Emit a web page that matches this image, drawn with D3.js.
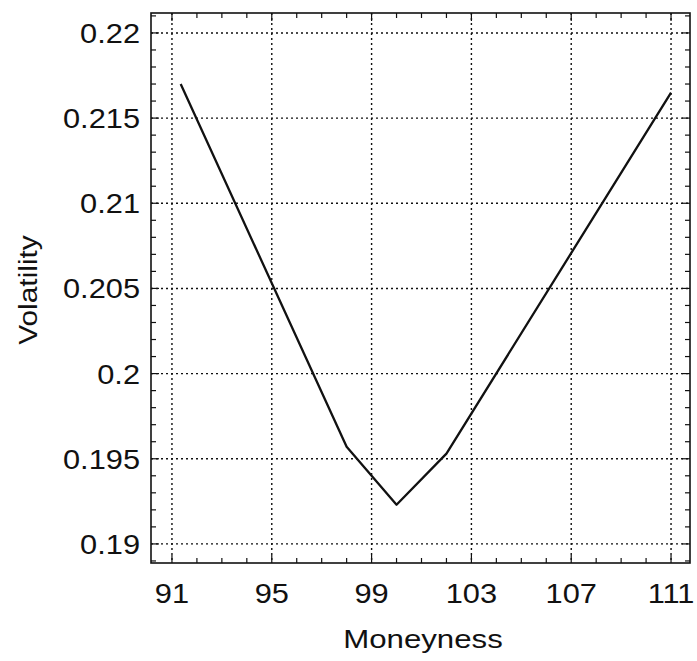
<!DOCTYPE html>
<html>
<head>
<meta charset="utf-8">
<script src="https://cdn.jsdelivr.net/npm/d3@7"></script>
<style>
  body { margin: 0; background: #fff; }
  text { font-family: "Liberation Sans", Arial, sans-serif; fill: #111; }
</style>
</head>
<body>
<svg width="697" height="661"></svg>
<script>
// data
const moneyness = [91.35, 98, 100, 102, 111]
const volatility = [0.217, 0.1957, 0.1923, 0.1953, 0.2165]

const xTicks = [91, 95, 99, 103, 107, 111]
const yTicks = [0.19, 0.195, 0.2, 0.205, 0.21, 0.215, 0.22]
const yTickLabels = ["0.19", "0.195", "0.2", "0.205", "0.21", "0.215", "0.22"]

const svg = d3.select("svg")

// plot frame edges
const fL = 151, fR = 690, fT = 13, fB = 563

const x = d3.scaleLinear().domain([90.16, 111.76]).range([fL, fR])
const y = d3.scaleLinear().domain([0.18888, 0.22117]).range([fB, fT])

const ink = "#111"

// dotted grid at the major ticks
svg.append("g").selectAll("line").data(xTicks).join("line")
  .attr("x1", d => x(d)).attr("x2", d => x(d))
  .attr("y1", fT).attr("y2", fB)
  .attr("stroke", ink).attr("stroke-width", 1.4).attr("stroke-dasharray", "2,3")

svg.append("g").selectAll("line").data(yTicks).join("line")
  .attr("x1", fL).attr("x2", fR)
  .attr("y1", d => y(d)).attr("y2", d => y(d))
  .attr("stroke", ink).attr("stroke-width", 1.4).attr("stroke-dasharray", "2,3")

// minor ticks, inward on all four sides
const xMinor = d3.range(91, 112, 1)
const yMinor = d3.range(189, 222, 1).map(d => d / 1000)

const ticks = svg.append("g").attr("stroke", ink).attr("stroke-width", 1.2)
ticks.selectAll(".xb").data(xMinor).join("line").attr("class", "xb")
  .attr("x1", d => x(d)).attr("x2", d => x(d))
  .attr("y1", fB).attr("y2", d => fB - (xTicks.includes(d) ? 8 : 5))
ticks.selectAll(".xt").data(xMinor).join("line").attr("class", "xt")
  .attr("x1", d => x(d)).attr("x2", d => x(d))
  .attr("y1", fT).attr("y2", d => fT + (xTicks.includes(d) ? 8 : 5))
ticks.selectAll(".yl").data(yMinor).join("line").attr("class", "yl")
  .attr("x1", fL).attr("x2", (d, i) => fL + (i % 5 === 1 ? 8 : 5))
  .attr("y1", d => y(d)).attr("y2", d => y(d))
ticks.selectAll(".yr").data(yMinor).join("line").attr("class", "yr")
  .attr("x1", fR).attr("x2", (d, i) => fR - (i % 5 === 1 ? 8 : 5))
  .attr("y1", d => y(d)).attr("y2", d => y(d))

// frame
svg.append("rect")
  .attr("x", fL).attr("y", fT)
  .attr("width", fR - fL).attr("height", fB - fT)
  .attr("fill", "none").attr("stroke", ink).attr("stroke-width", 1.6)

// the smile
const line = d3.line()
  .x((d, i) => x(moneyness[i]))
  .y((d, i) => y(volatility[i]))

svg.append("path").datum(volatility)
  .attr("d", line)
  .attr("fill", "none").attr("stroke", ink).attr("stroke-width", 2.3)
  .attr("stroke-linejoin", "round")

// tick labels (the scan is a bit wide, so stretch them sideways)
svg.append("g").selectAll("text").data(xTicks).join("text")
  .attr("transform", d => `translate(${x(d)},603) scale(1.14,1)`)
  .attr("text-anchor", "middle")
  .attr("font-size", 27)
  .text(d => d)

svg.append("g").selectAll("text").data(yTicks).join("text")
  .attr("transform", d => `translate(140,${y(d) + 10}) scale(1.14,1)`)
  .attr("text-anchor", "end")
  .attr("font-size", 27)
  .text((d, i) => yTickLabels[i])

// axis titles
svg.append("text")
  .attr("transform", "translate(423,648) scale(1.2,1)")
  .attr("text-anchor", "middle")
  .attr("font-size", 26)
  .text("Moneyness")

svg.append("text")
  .attr("transform", "translate(37,290) rotate(-90) scale(1.15,1)")
  .attr("text-anchor", "middle")
  .attr("font-size", 26)
  .text("Volatility")
</script>
</body>
</html>
